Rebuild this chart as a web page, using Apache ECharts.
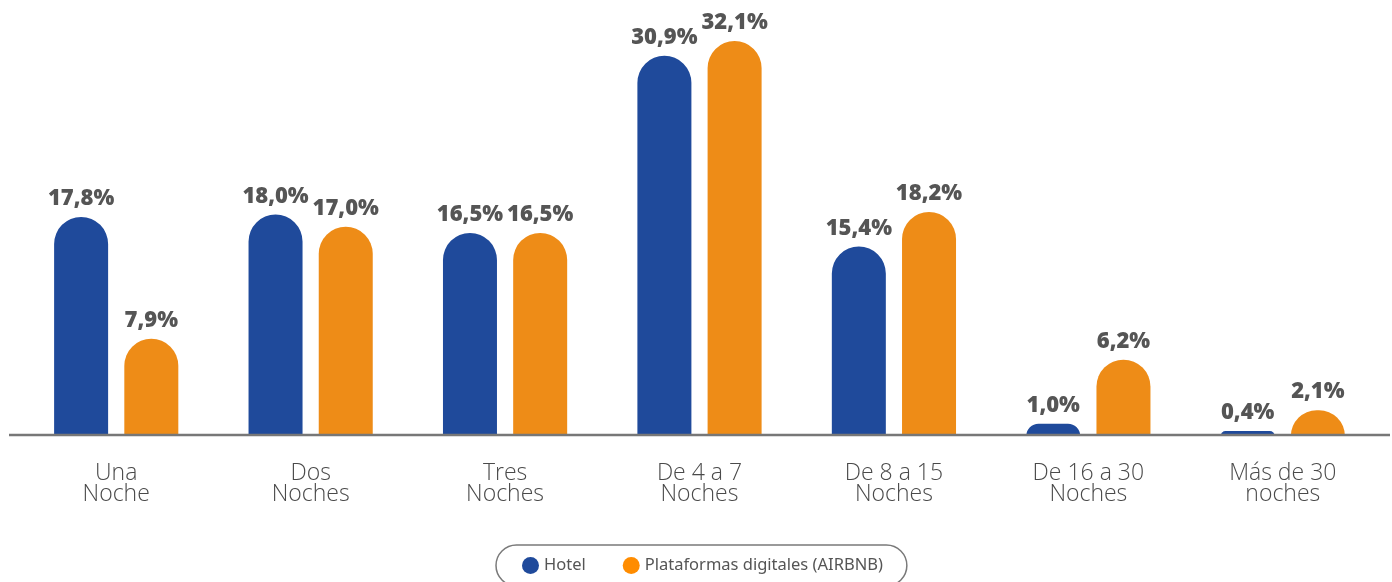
<!DOCTYPE html>
<html>
<head>
<meta charset="utf-8">
<script src="https://cdn.jsdelivr.net/npm/echarts@6/dist/echarts.min.js"></script>
<style>
  html, body { margin: 0; padding: 0; background: #ffffff; }
  #chart { width: 1392px; height: 582px; }
</style>
</head>
<body>
<div id="chart"></div>
<script>
// Duración de la estancia: hotel vs plataformas digitales
const categories = ['Una\nNoche', 'Dos\nNoches', 'Tres\nNoches', 'De 4 a 7\nNoches', 'De 8 a 15\nNoches', 'De 16 a 30\nNoches', 'Más de 30\nnoches'];
const hotel = [17.8, 18.0, 16.5, 30.9, 15.4, 1.0, 0.4];
const airbnb = [7.9, 17.0, 16.5, 32.1, 18.2, 6.2, 2.1];
const seriesNames = ['Hotel', 'Plataformas digitales (AIRBNB)'];

const BLUE = '#1f4a9b';
const ORANGE = '#ee8c17';
const LABEL_COLOR = '#555555';

const chart = echarts.init(document.getElementById('chart'), null, { renderer: 'canvas' });

const fmt = p => p.value.toFixed(1).replace('.', ',') + '%';

const barLabel = {
  show: true,
  position: 'top',
  distance: 7,
  formatter: fmt,
  color: LABEL_COLOR,
  fontFamily: 'Open Sans',
  fontWeight: 800,
  fontSize: 22
};

chart.setOption({
  animation: false,
  grid: { left: 19, right: 12, top: 9, bottom: 146, containLabel: false },
  xAxis: {
    type: 'category',
    data: categories,
    axisLine: { show: false },
    axisTick: { show: false },
    axisLabel: {
      margin: 27,
      color: '#4a4a4a',
      fontFamily: 'Open Sans',
      fontWeight: 300,
      fontSize: 23,
      lineHeight: 21
    }
  },
  yAxis: {
    type: 'value',
    min: 0,
    max: 34.7,
    show: false,
    splitLine: { show: false }
  },
  legend: {
    data: [
      { name: seriesNames[0], itemStyle: { color: BLUE } },
      { name: seriesNames[1], itemStyle: { color: '#ff8c00' } }
    ],
    left: 496,
    top: 545,
    icon: 'circle',
    itemWidth: 17,
    itemHeight: 17,
    itemGap: 37,
    padding: [12, 24, 12, 26],
    borderColor: '#7a7a7a',
    borderWidth: 1.5,
    borderRadius: 24,
    textStyle: { color: LABEL_COLOR, fontFamily: 'Noto Sans', fontSize: 16.5 }
  },
  series: [
    {
      name: seriesNames[0],
      type: 'bar',
      data: hotel,
      barWidth: 54,
      barGap: '30%',
      itemStyle: { color: BLUE, borderRadius: [27, 27, 0, 0] },
      label: barLabel
    },
    {
      name: seriesNames[1],
      type: 'bar',
      data: airbnb,
      barWidth: 54,
      barGap: '30%',
      itemStyle: { color: ORANGE, borderRadius: [27, 27, 0, 0] },
      label: barLabel
    }
  ]
});

// Baseline spanning the full width, placed at the zero of the value axis
const y0 = chart.convertToPixel({ yAxisIndex: 0 }, 0);
chart.setOption({
  graphic: [{
    type: 'line',
    shape: { x1: 9, y1: y0 - 1, x2: 1390, y2: y0 - 1 },
    style: { stroke: '#777777', lineWidth: 2.5 },
    z: 10
  }]
});
</script>
</body>
</html>
